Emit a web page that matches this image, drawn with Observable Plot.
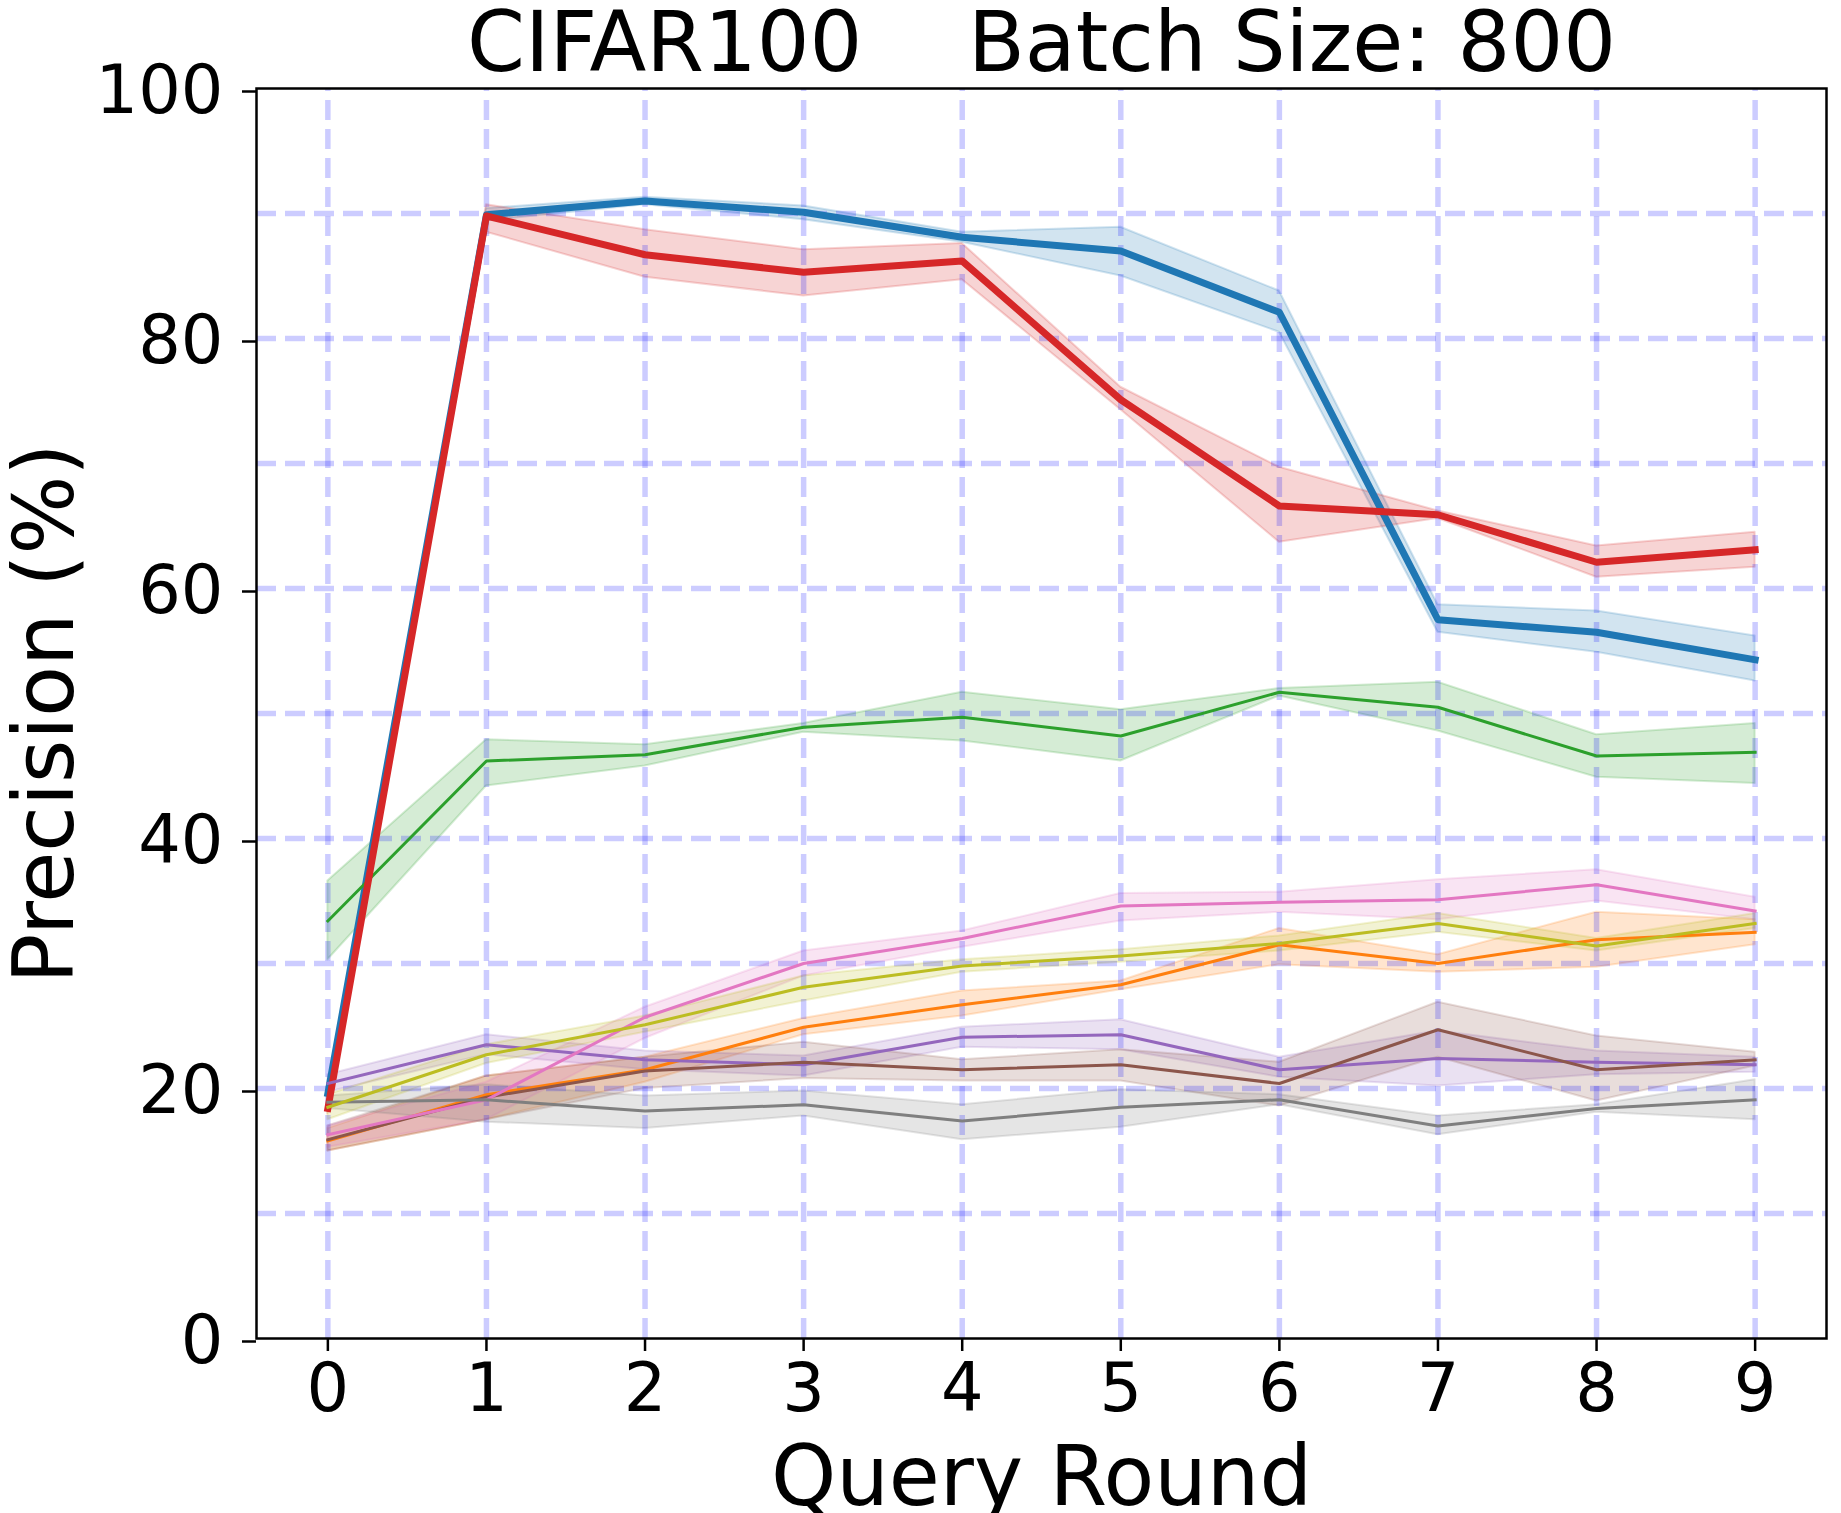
<!DOCTYPE html>
<html>
<head>
<meta charset="utf-8">
<script src="https://cdn.jsdelivr.net/npm/d3@7"></script>
<script src="https://cdn.jsdelivr.net/npm/@observablehq/plot@0.6"></script>
<style>
  html, body { margin: 0; padding: 0; background: #fff; }
  #chart svg { display: block; }
</style>
</head>
<body>
<div id="chart"></div>
<script>
// ---- Data ----
const rounds = [0, 1, 2, 3, 4, 5, 6, 7, 8, 9];
const yTicks = [0, 20, 40, 60, 80, 100];
const yGrid = [10, 20, 30, 40, 50, 60, 70, 80, 90];

const blueMean = [19.6, 89.9, 91.0, 90.1, 88.1, 87.0, 82.1, 57.5, 56.5, 54.3];
const blueLo   = [19.0, 89.4, 90.7, 89.5, 87.7, 85.0, 80.5, 56.5, 54.9, 52.6];
const blueHi   = [20.2, 90.4, 91.3, 90.6, 88.5, 88.9, 83.8, 58.7, 58.2, 56.2];

const orangeMean = [15.8, 19.5, 21.5, 24.9, 26.7, 28.3, 31.5, 30.0, 31.9, 32.5];
const orangeLo   = [15.0, 17.5, 20.5, 24.3, 25.8, 27.9, 29.9, 29.3, 29.7, 31.5];
const orangeHi   = [16.8, 21.0, 22.5, 25.6, 27.8, 28.6, 32.8, 30.7, 34.1, 33.5];

const greenMean = [33.4, 46.2, 46.7, 48.9, 49.7, 48.2, 51.7, 50.5, 46.6, 46.9];
const greenLo   = [30.3, 44.2, 45.8, 48.5, 47.8, 46.2, 51.4, 48.6, 44.9, 44.4];
const greenHi   = [36.6, 47.9, 47.5, 49.2, 51.7, 50.3, 52.0, 52.5, 48.3, 49.2];

const redMean = [18.4, 89.8, 86.7, 85.3, 86.2, 75.1, 66.6, 65.9, 62.1, 63.1];
const redLo   = [18.0, 88.5, 84.9, 83.4, 84.7, 74.3, 63.7, 65.6, 60.9, 61.7];
const redHi   = [18.8, 90.7, 88.7, 87.1, 87.6, 76.1, 69.7, 66.2, 63.4, 64.5];

const purpleMean = [20.4, 23.5, 22.3, 21.9, 24.1, 24.3, 21.5, 22.4, 22.1, 21.9];
const purpleLo   = [19.7, 22.7, 21.5, 21.0, 23.3, 23.1, 20.9, 20.2, 21.1, 21.3];
const purpleHi   = [21.1, 24.3, 23.0, 22.6, 24.9, 25.5, 22.5, 24.6, 23.0, 22.5];

const brownMean = [15.9, 19.3, 21.4, 22.1, 21.5, 21.9, 20.4, 24.7, 21.5, 22.3];
const brownLo   = [15.0, 17.5, 20.0, 20.8, 20.6, 20.6, 18.6, 22.5, 19.0, 21.8];
const brownHi   = [17.0, 21.0, 22.5, 23.7, 22.3, 23.1, 22.1, 26.9, 24.2, 22.9];

const pinkMean = [16.3, 19.1, 25.7, 30.0, 32.0, 34.6, 34.9, 35.1, 36.3, 34.2];
const pinkLo   = [15.3, 17.5, 24.0, 29.0, 31.3, 33.4, 34.1, 33.5, 35.0, 33.5];
const pinkHi   = [17.0, 20.5, 26.5, 31.0, 32.6, 35.6, 35.7, 36.7, 37.5, 35.3];

const grayMean = [18.9, 19.1, 18.2, 18.7, 17.4, 18.5, 19.1, 17.0, 18.4, 19.1];
const grayLo   = [18.4, 17.3, 16.8, 17.8, 15.9, 16.9, 18.7, 16.3, 18.1, 17.5];
const grayHi   = [19.4, 20.3, 19.4, 19.8, 18.7, 19.9, 19.5, 17.8, 18.7, 20.7];

const oliveMean = [18.5, 22.7, 25.1, 28.1, 29.8, 30.6, 31.6, 33.2, 31.4, 33.2];
const oliveLo   = [17.5, 22.0, 24.5, 27.0, 29.3, 30.1, 31.0, 32.5, 31.0, 32.8];
const oliveHi   = [19.5, 23.5, 25.8, 29.0, 30.3, 31.1, 32.2, 34.0, 32.0, 34.0];

const titleText = "CIFAR100\u00a0\u00a0\u00a0\u00a0Batch Size: 800";
const xLabel = "Query Round";
const yLabel = "Precision (%)";

// ---- Series table ----
const series = [
  {name: "blue",   color: "#1f77b4", width: 7, mean: blueMean,   lo: blueLo,   hi: blueHi},
  {name: "orange", color: "#ff7f0e", width: 3, mean: orangeMean, lo: orangeLo, hi: orangeHi},
  {name: "green",  color: "#2ca02c", width: 3, mean: greenMean,  lo: greenLo,  hi: greenHi},
  {name: "red",    color: "#d62728", width: 7, mean: redMean,    lo: redLo,    hi: redHi},
  {name: "purple", color: "#9467bd", width: 3, mean: purpleMean, lo: purpleLo, hi: purpleHi},
  {name: "brown",  color: "#8c564b", width: 3, mean: brownMean,  lo: brownLo,  hi: brownHi},
  {name: "pink",   color: "#e377c2", width: 3, mean: pinkMean,   lo: pinkLo,   hi: pinkHi},
  {name: "gray",   color: "#7f7f7f", width: 3, mean: grayMean,   lo: grayLo,   hi: grayHi},
  {name: "olive",  color: "#bcbd22", width: 3, mean: oliveMean,  lo: oliveLo,  hi: oliveHi}
];
const rowsOf = s => rounds.map((r, i) => ({series: s.name, round: r, mean: s.mean[i], lo: s.lo[i], hi: s.hi[i]}));

const bands = series.map(s => Plot.areaY(rowsOf(s), {
  x: "round", y1: "lo", y2: "hi",
  fill: s.color, fillOpacity: 0.2,
  stroke: s.color, strokeOpacity: 0.2, strokeWidth: 2
}));
const lines = series.map(s => Plot.line(rowsOf(s), {
  x: "round", y: "mean", stroke: s.color, strokeWidth: s.width,
  strokeLinejoin: "round", strokeLinecap: "square"
}));

const gridStyle = {stroke: "blue", strokeOpacity: 0.2, strokeWidth: 5.5, strokeDasharray: "20,9"};

const chart = Plot.plot({
  width: 1841,
  height: 1513,
  marginLeft: 256,
  marginRight: 15,
  marginTop: 88,
  marginBottom: 175,
  style: {fontFamily: "DejaVu Sans", fontSize: "67px", background: "white", color: "black"},
  x: {type: "linear", domain: [-0.45, 9.45]},
  y: {type: "linear", domain: [0, 100]},
  marks: [
    ...bands,
    Plot.ruleY(yGrid, {y: d => d, x1: () => -0.45, x2: () => 9.45, ...gridStyle}),
    Plot.ruleX(rounds, {x: d => d, y1: () => 0, y2: () => 100, ...gridStyle}),
    ...lines,
    Plot.axisY({ticks: yTicks, tickSize: 14, tickPadding: 19, fontSize: 67, label: null, strokeWidth: 2.5, dy: 3, tickFormat: d => String(d)}),
    Plot.axisX({ticks: rounds, tickSize: 13, tickPadding: 12, fontSize: 67, label: null, strokeWidth: 2.5, tickFormat: d => String(d)}),
    Plot.frame({stroke: "black", strokeWidth: 2.5}),
    Plot.text([titleText], {text: d => d, frameAnchor: "top", textAnchor: "middle", dy: -18, lineAnchor: "bottom", fontSize: 83}),
    Plot.text([xLabel], {text: d => d, frameAnchor: "bottom", textAnchor: "middle", dy: 166, lineAnchor: "bottom", fontSize: 83}),
    Plot.text([yLabel], {text: d => d, frameAnchor: "left", textAnchor: "middle", dx: -184, rotate: -90, lineAnchor: "bottom", fontSize: 83})
  ]
});
document.getElementById("chart").appendChild(chart);
</script>
</body>
</html>
